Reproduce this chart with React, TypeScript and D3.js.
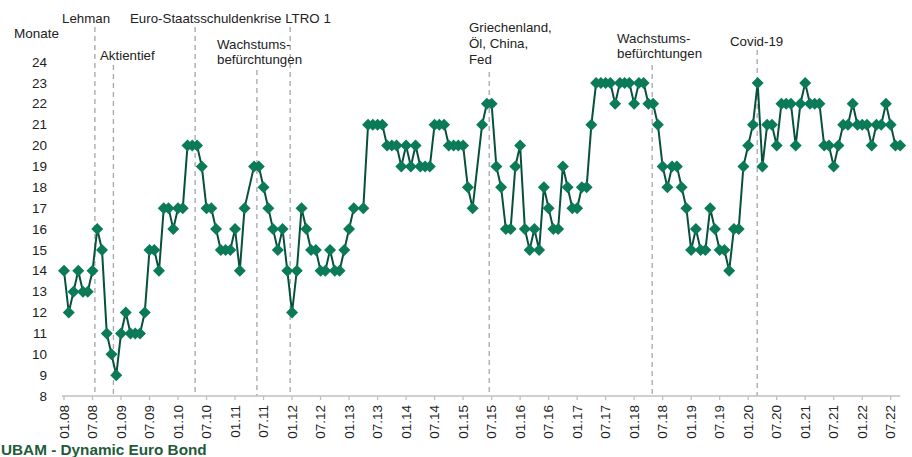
import React from 'react';
import * as d3 from 'd3';

// Monthly values (Monate), 01.08 .. 09.22 — null = no value that month (line just connects)
const months: (number | null)[] = [
  14, 12, 13, 14, 13, 13, 14, 16, 15, 11, 10, 9, 11, 12, 11, 11, 11, 12, 15, 15, 14, 17, 17, 16,
  17, 17, 20, 20, 20, 19, 17, 17, 16, 15, 15, 15, 16, 14, 17, null, 19, 19, 18, 17, 16, 15, 16, 14,
  12, 14, 17, 16, 15, 15, 14, 14, 15, 14, 14, 15, 16, 17, null, 17, 21, 21, 21, 21, 20, 20, 20, 19,
  20, 19, 20, 19, 19, 19, 21, 21, 21, 20, 20, 20, 20, 18, 17, null, 21, 22, 22, 19, 18, 16, 16, 19,
  20, 16, 15, 16, 15, 18, 17, 16, 16, 19, 18, 17, 17, 18, 18, 21, 23, 23, 23, 23, 22, 23, 23, 23,
  22, 23, 23, 22, 22, 21, 19, 18, 19, 19, 18, 17, 15, 16, 15, 15, 17, 16, 15, 15, 14, 16, 16, 19,
  20, 21, 23, 19, 21, 21, 20, 22, 22, 22, 20, 22, 23, 22, 22, 22, 20, 20, 19, 20, 21, 21, 22, 21,
  21, 21, 20, 21, 21, 22, 21, 20, 20,
];

const tickLabels = [
  '01.08', '07.08', '01.09', '07.09', '01.10', '07.10', '01.11', '07.11', '01.12', '07.12',
  '01.13', '07.13', '01.14', '07.14', '01.15', '07.15', '01.16', '07.16', '01.17', '07.17',
  '01.18', '07.18', '01.19', '07.19', '01.20', '07.20', '01.21', '07.21', '01.22', '07.22',
];

const yTicks = [8, 9, 10, 11, 12, 13, 14, 15, 16, 17, 18, 19, 20, 21, 22, 23, 24];

// event markers: month index of the dashed line
const eventIndex = [6.5, 10.4, 27.6, 40.6, 47.6, 89.5, 123.8, 145.9];

const FONT = '"Liberation Sans", Arial, sans-serif';
const GREEN_LINE = '#07513a';
const GREEN_MARK = '#0b7b57';

const App: React.FC = () => {
  const width = 912;
  const height = 457;

  const x = d3.scaleLinear().domain([0, 174]).range([64, 890.7]);
  const y = d3.scaleLinear().domain([8, 24]).range([396, 62]);

  const points = months
    .map((v, i) => ({ i, v }))
    .filter((d): d is { i: number; v: number } => d.v !== null);

  const line = d3.line<{ i: number; v: number }>()
    .x(d => x(d.i))
    .y(d => y(d.v));

  const diamond = 'M0,-6L6,0L0,6L-6,0Z';

  // top of each dashed line (label sits above it)
  const eventTop = [27, 65, 27, 70, 27, 72, 65, 50];

  const labels: { text: string; x: number; y: number }[] = [
    { text: 'Lehman', x: 62, y: 23 },
    { text: 'Euro-Staatsschuldenkrise LTRO 1', x: 130, y: 23 },
    { text: 'Aktientief', x: 100, y: 60 },
    { text: 'Wachstums-', x: 217, y: 49 },
    { text: 'befürchtungen', x: 217, y: 64 },
    { text: 'Griechenland,', x: 469, y: 32 },
    { text: 'Öl, China,', x: 469, y: 48 },
    { text: 'Fed', x: 469, y: 64 },
    { text: 'Wachstums-', x: 617, y: 42.5 },
    { text: 'befürchtungen', x: 617, y: 58 },
    { text: 'Covid-19', x: 730, y: 46 },
  ];

  return (
    <svg
      width={width}
      height={height}
      style={{ position: 'absolute', left: 0, top: 0, background: '#fff' }}
      fontFamily={FONT}
    >
      {/* event lines */}
      {eventIndex.map((e, i) => (
        <line
          key={'ev' + i}
          x1={x(e)}
          x2={x(e)}
          y1={eventTop[i]}
          y2={y(8)}
          stroke="#a6a6a6"
          strokeWidth={1.3}
          strokeDasharray="5,4"
        />
      ))}

      {/* x axis */}
      <line x1={x(0) - 2} x2={x(months.length - 1)} y1={y(8)} y2={y(8)} stroke="#bfbfbf" strokeWidth={1.3} />
      {tickLabels.map((t, k) => (
        <g key={t} transform={`translate(${x(k * 6)},${y(8)})`}>
          <line y1={0} y2={4} stroke="#bfbfbf" strokeWidth={1.3} />
          <text
            transform="translate(0,9) rotate(-90)"
            textAnchor="end"
            dy="0.35em"
            fontSize={13.5}
            fill="#222"
          >
            {t}
          </text>
        </g>
      ))}

      {/* y labels */}
      {yTicks.map(v => (
        <text key={v} x={47} y={y(v)} dy="0.35em" textAnchor="end" fontSize={13.5} fill="#222">
          {v}
        </text>
      ))}
      <text x={14} y={37.5} fontSize={13.5} fill="#222">Monate</text>

      {labels.map((l, i) => (
        <text key={'lb' + i} x={l.x} y={l.y} fontSize={13.3} fill="#222">{l.text}</text>
      ))}

      {/* series */}
      <path d={line(points) || ''} fill="none" stroke={GREEN_LINE} strokeWidth={2} />
      {points.map(d => (
        <path key={'pt' + d.i} d={diamond} transform={`translate(${x(d.i)},${y(d.v)})`} fill={GREEN_MARK} />
      ))}

      <text x={1} y={455} fontSize={15.3} fontWeight="bold" fill="#1e5c3a">UBAM - Dynamic Euro Bond</text>
    </svg>
  );
};

export default App;
